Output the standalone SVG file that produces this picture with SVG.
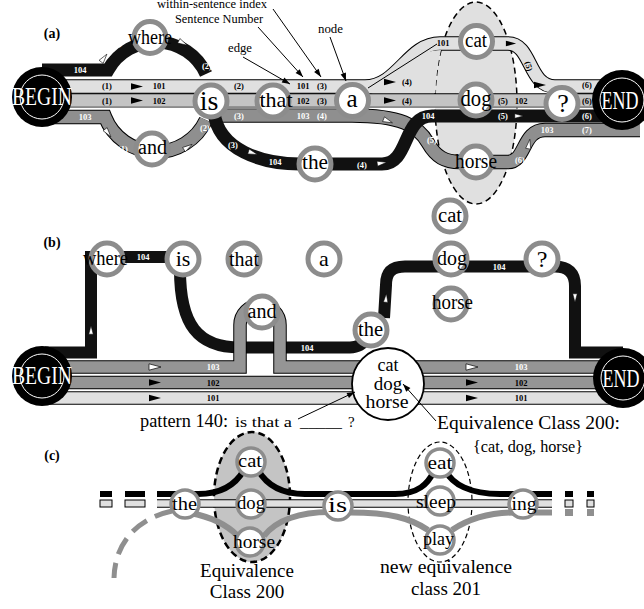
<svg xmlns="http://www.w3.org/2000/svg" width="644" height="609" viewBox="0 0 644 609" font-family="Liberation Serif, Times New Roman, DejaVu Serif, serif">
<style>
.ring{fill:#fff;stroke:#8c8c8c;stroke-width:5}
.ringc{fill:#fff;stroke:#8c8c8c;stroke-width:3.5}
.t{fill:#000;text-anchor:middle}
.ts{fill:#000}
.s{font-weight:bold;font-size:8.5px;text-anchor:middle;fill:#000}
.sw{fill:#fff}
.bd{fill:none;stroke:#000;stroke-width:14.5}
.bdb{fill:none;stroke:#000;stroke-width:13.5}
.l1{fill:none;stroke:#e0e0e0;stroke-width:12.5}
.l2{fill:none;stroke:#c4c4c4;stroke-width:12.5}
.l3{fill:none;stroke:#8f8f8f;stroke-width:12.5}
.m1{fill:none;stroke:#e0e0e0;stroke-width:11.5}
.m3{fill:none;stroke:#959595;stroke-width:11.5}
.l4{fill:none;stroke:#111;stroke-width:13}
.k4{fill:none;stroke:#111;stroke-width:12}
.tb{fill:#000}
.tw{fill:#fff;stroke:#000;stroke-width:0.7}
.term{fill:#000}
.termi{fill:none;stroke:#fff;stroke-width:1}
.tt{fill:#fff;text-anchor:middle;font-size:25px}
.ann{fill:none;stroke:#000;stroke-width:1}
.pl{font-weight:bold;font-size:14px;text-anchor:middle}
</style>
<defs>
<path id="tri" d="M-6,-3.2 L6,0 L-6,3.2 Z"/>
<marker id="ah" viewBox="0 0 10 10" refX="10" refY="5" markerWidth="10" markerHeight="8" orient="auto" markerUnits="userSpaceOnUse"><path d="M0,1.5 L10,5 L0,8.5 Z" fill="#000"/></marker>
</defs>

<!-- ================= (a) ================= -->
<g id="panel-a">
<text class="pl" x="52" y="38">(a)</text>
<ellipse cx="476" cy="103" rx="41" ry="101" fill="#e0e0e0" stroke="#000" stroke-width="1.5" stroke-dasharray="6 4"/>
<g id="connectors-a">
 <path class="bd" d="M42 117 H105 A55 55 0 0 0 206 120"/>
 <path class="l3" d="M42 117 H105 A55 55 0 0 0 206 120"/>
 <path class="bd" d="M211 115.5 H352 C400 115.5 418 125 428 143 C436 157 445 162 460 162 H508 C526 162 522 130 545 130 H640"/>
 <path class="l3" d="M211 115.5 H352 C400 115.5 418 125 428 143 C436 157 445 162 460 162 H508 C526 162 522 130 545 130 H640"/>
 <path class="bd" d="M42 86.5 H365 C398 86.5 408 43.5 440 43.5 H508 C532 43.5 528 86.5 555 86.5 H640"/>
 <path class="l1" d="M42 86.5 H365 C398 86.5 408 43.5 440 43.5 H508 C532 43.5 528 86.5 555 86.5 H640"/>
 <path d="M365 93 V86 C396 86 408 50 441 50 Q436 70 435.5 93 Z" fill="#e0e0e0"/>
 <path class="ann" d="M368 88 L437 44" stroke-width="0.9"/>
 <path class="bd" d="M42 100.5 H640"/>
 <path class="l2" d="M42 100.5 H640"/>
 <path d="M42 108 H640" stroke="#fff" stroke-width="0.8"/>
 <path class="l4" d="M42 70 H108 A55 55 0 0 1 206 74"/>
 <path class="l4" d="M214 112 C218 150 262 164 300 164 H382 C410 164 402 116 432 116 H640"/>
</g>
<g id="marks-a">
 <use href="#tri" class="tb" transform="translate(137,86.5)"/>
 <use href="#tri" class="tb" transform="translate(137,100.5)"/>
 <use href="#tri" class="tb" transform="translate(390,82)"/>
 <use href="#tri" class="tb" transform="translate(390,100.5)"/>
 <use href="#tri" class="tb" transform="translate(511,43.5) scale(0.85)"/>
 <use href="#tri" class="tb" transform="translate(540,85)"/>
 <use href="#tri" class="tw" transform="translate(104,58) rotate(-53) scale(0.8)"/>
 <use href="#tri" class="tw" transform="translate(183,43) rotate(27) scale(0.8)"/>
 <use href="#tri" class="tw" transform="translate(108,133) rotate(53) scale(0.8)"/>
 <use href="#tri" class="tw" transform="translate(188,147) rotate(-33) scale(0.8)"/>
 <use href="#tri" class="tw" transform="translate(253,153) rotate(18) scale(0.8)"/>
 <use href="#tri" class="tw" transform="translate(382,163) rotate(-8) scale(0.8)"/>
 <use href="#tri" class="tw" transform="translate(388,121) rotate(22) scale(0.8)"/>
 <use href="#tri" class="tw" transform="translate(519,116) scale(0.7)"/>
 <use href="#tri" class="tw" transform="translate(529,144) rotate(-80) scale(0.8)"/>
</g>
<g id="labels-a">
 <text class="s" x="107" y="89">(1)</text><text class="s" x="159" y="89">101</text>
 <text class="s" x="107" y="103.5">(1)</text><text class="s" x="159" y="103.5">102</text>
 <text class="s" x="239" y="89">(2)</text>
 <text class="s" x="303" y="89">101</text><text class="s" x="322" y="89">(3)</text>
 <text class="s" x="303" y="103.5">102</text><text class="s" x="322" y="103.5">(3)</text>
 <text class="s" x="407" y="85">(4)</text><text class="s" x="407" y="103.5">(4)</text>
 <text class="s" x="443" y="46">101</text>
 <text class="s" x="503" y="103.5">(5)</text><text class="s" x="521" y="103.5">102</text>
 <text class="s" transform="translate(526,67) rotate(75)">(5)</text>
 <text class="s" x="587" y="88">(6)</text><text class="s" x="587" y="103.5">(6)</text>
 <text class="s sw" x="80" y="73">104</text>
 <text class="s sw" x="117" y="46">(1)</text>
 <text class="s sw" x="207" y="69">(2)</text>
 <text class="s sw" x="85" y="120">103</text>
 <text class="s sw" x="123" y="152">(1)</text>
 <text class="s sw" x="205" y="131">(2)</text>
 <text class="s sw" x="239" y="118.5">(3)</text>
 <text class="s sw" x="303" y="118.5">103</text><text class="s sw" x="322" y="118.5">(4)</text>
 <text class="s sw" x="233" y="148">(3)</text>
 <text class="s sw" x="275" y="165">104</text>
 <text class="s sw" x="362" y="168">(4)</text>
 <text class="s sw" x="428" y="119">104</text>
 <text class="s sw" x="432" y="143">(5)</text>
 <text class="s sw" x="503" y="119">(5)</text>
 <text class="s sw" x="520" y="163">(6)</text>
 <text class="s sw" x="547" y="133">103</text><text class="s sw" x="587" y="133">(7)</text>
 <text class="s sw" x="587" y="119">(6)</text>
</g>
<g id="annotations-a">
 <text class="ts" x="157" y="8" font-size="12.5" textLength="110" lengthAdjust="spacingAndGlyphs">within-sentence index</text>
 <text class="ts" x="175" y="23" font-size="12.5" textLength="88" lengthAdjust="spacingAndGlyphs">Sentence Number</text>
 <text class="ts" x="228" y="52" font-size="12.5" textLength="24" lengthAdjust="spacingAndGlyphs">edge</text>
 <text class="ts" x="318" y="33" font-size="12.5" textLength="25" lengthAdjust="spacingAndGlyphs">node</text>
 <path class="ann" d="M273 9 L321 77" marker-end="url(#ah)"/>
 <path class="ann" d="M258 27 L303 77" marker-end="url(#ah)"/>
 <path class="ann" d="M243 57 L290 84" marker-end="url(#ah)"/>
 <path class="ann" d="M330 37 L346 81" marker-end="url(#ah)"/>
</g>
<g id="a-where"><circle class="ring" cx="150" cy="37.5" r="16"/><text class="t" x="150" y="44" font-size="20" textLength="44" lengthAdjust="spacingAndGlyphs">where</text></g>
<g id="a-and"><circle class="ring" cx="152" cy="149" r="16"/><text class="t" x="152.5" y="154" font-size="20" textLength="29" lengthAdjust="spacingAndGlyphs">and</text></g>
<g id="a-is"><circle class="ring" cx="211" cy="101" r="16"/><text class="t" x="209" y="110" font-size="28">is</text></g>
<g id="a-that"><circle class="ring" cx="273" cy="101" r="16"/><text class="t" x="276" y="107" font-size="21" textLength="33" lengthAdjust="spacingAndGlyphs">that</text></g>
<g id="a-a"><circle class="ring" cx="352.5" cy="100.5" r="16"/><text class="t" x="352" y="107" font-size="25">a</text></g>
<g id="a-the"><circle class="ring" cx="315" cy="164" r="16"/><text class="t" x="315" y="169" font-size="21" textLength="26" lengthAdjust="spacingAndGlyphs">the</text></g>
<g id="a-cat"><circle class="ring" cx="476.5" cy="41.5" r="16"/><text class="t" x="476" y="47" font-size="20" textLength="22" lengthAdjust="spacingAndGlyphs">cat</text></g>
<g id="a-dog"><circle class="ring" cx="476" cy="100" r="16"/><text class="t" x="476" y="106" font-size="23" textLength="31" lengthAdjust="spacingAndGlyphs">dog</text></g>
<g id="a-horse"><circle class="ring" cx="476" cy="162" r="16"/><text class="t" x="476" y="168" font-size="22" textLength="42" lengthAdjust="spacingAndGlyphs">horse</text></g>
<g id="a-q"><circle class="ring" cx="562" cy="103.5" r="16"/><text class="t" x="563" y="112" font-size="26">?</text></g>
<g id="a-begin"><circle class="term" cx="42" cy="97" r="30"/><circle class="termi" cx="42" cy="97" r="22"/><text class="tt" x="42" y="105" textLength="60" lengthAdjust="spacingAndGlyphs">BEGIN</text></g>
<g id="a-end"><circle class="term" cx="622" cy="100" r="30"/><circle class="termi" cx="622" cy="100" r="22"/><text class="tt" x="620" y="109" textLength="37" lengthAdjust="spacingAndGlyphs">END</text></g>
</g>

<!-- ================= (b) ================= -->
<g id="panel-b">
<text class="pl" x="52" y="247">(b)</text>
<g id="connectors-b">
 <path class="k4" d="M45 352.5 H91 V257 H183" stroke-linejoin="miter"/>
 <path class="k4" d="M180 270 C180 325 198 347.5 240 347.5 H350 C358 347.5 364 343 368 337"/>
 <path class="k4" d="M384 318 L386 285 C386 272 392 266.5 405 266.5 H555 C568 266.5 575 273 575 286 V352.5 H623"/>
 <path class="bdb" d="M42 398 H623"/><path class="m1" d="M42 398 H623"/>
 <path class="bdb" d="M42 382.5 H623"/><path class="m3" d="M42 382.5 H623"/>
 <path class="bdb" d="M42 367 H240 V325 A20 20 0 0 1 280 325 V367 H623"/>
 <path class="m3" d="M42 367 H240 V325 A20 20 0 0 1 280 325 V367 H623"/>
</g>
<g id="marks-b">
 <use href="#tri" class="tw" transform="translate(155,367)"/>
 <use href="#tri" class="tb" transform="translate(155,382.5)"/>
 <use href="#tri" class="tb" transform="translate(155,398)"/>
 <use href="#tri" class="tw" transform="translate(472,367)"/>
 <use href="#tri" class="tb" transform="translate(472,382.5)"/>
 <use href="#tri" class="tb" transform="translate(472,398)"/>
 <use href="#tri" class="tw" transform="translate(91,330) rotate(-90) scale(0.7)"/>
 <use href="#tri" class="tw" transform="translate(386,298) rotate(-85) scale(0.7)"/>
 <use href="#tri" class="tw" transform="translate(575,298) rotate(90) scale(0.7)"/>
 <text class="s sw" x="143" y="260">104</text>
 <text class="s sw" x="307" y="351">104</text>
 <text class="s sw" x="499" y="270">104</text>
 <text class="s sw" x="213" y="370">103</text><text class="s" x="213" y="385.5">102</text><text class="s" x="213" y="401">101</text>
 <text class="s sw" x="521" y="370">103</text><text class="s" x="521" y="385.5">102</text><text class="s" x="521" y="401">101</text>
</g>
<g id="b-class"><circle cx="388" cy="384" r="36" fill="#fff" stroke="#000" stroke-width="1.8"/>
 <text class="t" x="388" y="371" font-size="18">cat</text>
 <text class="t" x="388" y="389.5" font-size="19">dog</text>
 <text class="t" x="387" y="408" font-size="18.5" textLength="43" lengthAdjust="spacingAndGlyphs">horse</text>
</g>
<g id="b-where"><circle class="ring" cx="107" cy="259" r="16"/><text class="t" x="105.5" y="265" font-size="20" textLength="45" lengthAdjust="spacingAndGlyphs">where</text></g>
<g id="b-is"><circle class="ring" cx="183" cy="259" r="16"/><text class="t" x="183" y="266" font-size="22">is</text></g>
<g id="b-that"><circle class="ring" cx="244" cy="259" r="16"/><text class="t" x="244" y="266" font-size="20" textLength="30" lengthAdjust="spacingAndGlyphs">that</text></g>
<g id="b-a"><circle class="ring" cx="324" cy="259" r="16"/><text class="t" x="324" y="266" font-size="22">a</text></g>
<g id="b-and"><circle class="ring" cx="262" cy="312" r="16"/><text class="t" x="262" y="318" font-size="20" textLength="29" lengthAdjust="spacingAndGlyphs">and</text></g>
<g id="b-the"><circle class="ring" cx="371" cy="330" r="16"/><text class="t" x="370.5" y="336" font-size="20" textLength="25" lengthAdjust="spacingAndGlyphs">the</text></g>
<g id="b-cat"><circle class="ring" cx="450" cy="216" r="16"/><text class="t" x="450" y="222" font-size="20" textLength="24" lengthAdjust="spacingAndGlyphs">cat</text></g>
<g id="b-dog"><circle class="ring" cx="451" cy="259" r="16"/><text class="t" x="452" y="265" font-size="21" textLength="30" lengthAdjust="spacingAndGlyphs">dog</text></g>
<g id="b-horse"><circle class="ring" cx="451" cy="304" r="16"/><text class="t" x="452.5" y="309" font-size="20" textLength="41" lengthAdjust="spacingAndGlyphs">horse</text></g>
<g id="b-q"><circle class="ring" cx="542" cy="259" r="16"/><text class="t" x="542" y="267" font-size="24">?</text></g>
<g id="b-begin"><circle class="term" cx="42" cy="376" r="30"/><circle class="termi" cx="42" cy="376" r="22"/><text class="tt" x="42" y="384" textLength="60" lengthAdjust="spacingAndGlyphs">BEGIN</text></g>
<g id="b-end"><circle class="term" cx="623" cy="378" r="30"/><circle class="termi" cx="623" cy="378" r="22"/><text class="tt" x="621" y="387" textLength="37" lengthAdjust="spacingAndGlyphs">END</text></g>
<g id="annotations-b">
 <text class="ts" x="140" y="427" font-size="18" textLength="88" lengthAdjust="spacingAndGlyphs">pattern 140:</text>
 <text class="ts" x="235" y="427" font-size="15" textLength="57" lengthAdjust="spacingAndGlyphs">is that a</text>
 <text class="ts" x="300" y="427" font-size="15" textLength="42" lengthAdjust="spacingAndGlyphs">_____</text>
 <text class="ts" x="348" y="427" font-size="15">?</text>
 <path class="ann" d="M298 419 L355 392" marker-end="url(#ah)"/>
 <text class="ts" x="437" y="429" font-size="19.5" textLength="183" lengthAdjust="spacingAndGlyphs">Equivalence Class 200:</text>
 <text class="ts" x="473" y="452" font-size="16" textLength="110" lengthAdjust="spacingAndGlyphs">{cat, dog, horse}</text>
 <path class="ann" d="M436 421 L403 384" marker-end="url(#ah)"/>
</g>
</g>

<!-- ================= (c) ================= -->
<g id="panel-c">
<text class="pl" x="52" y="460">(c)</text>
<ellipse cx="252" cy="497" rx="38" ry="65" fill="#c4c4c4" stroke="#000" stroke-width="2.5" stroke-dasharray="7 4"/>
<ellipse cx="440" cy="502" rx="32" ry="60" fill="none" stroke="#000" stroke-width="1.2" stroke-dasharray="5 3"/>
<g id="connectors-c">
 <g fill="#000">
  <rect x="100" y="491" width="12" height="6"/><rect x="125" y="491" width="20" height="6"/>
  <rect x="565" y="491" width="8" height="6"/><rect x="587" y="491" width="7" height="6"/>
 </g>
 <g fill="#e0e0e0" stroke="#000" stroke-width="1">
  <rect x="100" y="500" width="12" height="7"/><rect x="125" y="500" width="20" height="7"/>
  <rect x="565" y="500" width="8" height="7"/><rect x="587" y="500" width="7" height="7"/>
 </g>
 <g fill="#8f8f8f">
  <rect x="565" y="509" width="8" height="7"/><rect x="587" y="509" width="7" height="7"/>
 </g>
 <path d="M157 503.5 H552" fill="none" stroke="#000" stroke-width="8.5"/>
 <path d="M157 503.5 H552" fill="none" stroke="#e0e0e0" stroke-width="6.5"/>
 <g fill="none" stroke="#000" stroke-width="6">
  <path d="M157 494 H198 C222 494 236 484 244 470"/>
  <path d="M258 470 C266 484 280 494 305 494 H395 C418 494 428 484 434 471"/>
  <path d="M446 471 C452 484 470 494 500 494 H552"/>
 </g>
 <g fill="none" stroke="#8f8f8f" stroke-width="6">
  <path d="M190 513 C212 517 228 526 238 536"/>
  <path d="M264 536 C276 520 300 512 330 512"/>
  <path d="M350 512.5 C390 512.5 410 518 428 530"/>
  <path d="M452 530 C470 518 490 512.5 515 512.5"/>
  <path d="M530 512.5 H552"/>
  <path d="M172 511 C140 518 115 540 114 578" stroke-dasharray="18 9" stroke-width="5"/>
 </g>
</g>
<g id="c-the"><circle class="ringc" cx="185" cy="504" r="14"/><text class="t" x="184.5" y="510" font-size="18" textLength="25" lengthAdjust="spacingAndGlyphs">the</text></g>
<g id="c-cat"><circle class="ringc" cx="251" cy="462" r="14"/><text class="t" x="250" y="467" font-size="18" textLength="24" lengthAdjust="spacingAndGlyphs">cat</text></g>
<g id="c-dog"><circle class="ringc" cx="251" cy="504" r="14"/><text class="t" x="251" y="509" font-size="19" textLength="28" lengthAdjust="spacingAndGlyphs">dog</text></g>
<g id="c-horse"><circle class="ringc" cx="250" cy="542" r="14"/><text class="t" x="254" y="548" font-size="18" textLength="42" lengthAdjust="spacingAndGlyphs">horse</text></g>
<g id="c-is"><circle class="ringc" cx="338" cy="506" r="14"/><text class="t" x="337.5" y="512" font-size="20" textLength="19" lengthAdjust="spacingAndGlyphs">is</text></g>
<g id="c-eat"><circle class="ringc" cx="440" cy="463" r="14"/><text class="t" x="440" y="469" font-size="18" textLength="25" lengthAdjust="spacingAndGlyphs">eat</text></g>
<g id="c-sleep"><circle class="ringc" cx="440" cy="501" r="14"/><text class="t" x="436" y="508" font-size="18" textLength="40" lengthAdjust="spacingAndGlyphs">sleep</text></g>
<g id="c-play"><circle class="ringc" cx="440" cy="540" r="14"/><text class="t" x="438.5" y="545" font-size="18" textLength="31" lengthAdjust="spacingAndGlyphs">play</text></g>
<g id="c-ing"><circle class="ringc" cx="523" cy="504" r="14"/><text class="t" x="524" y="510" font-size="18" textLength="25" lengthAdjust="spacingAndGlyphs">ing</text></g>
<g id="labels-c">
 <text class="t" x="247" y="577" font-size="19">Equivalence</text>
 <text class="t" x="247" y="598" font-size="19">Class 200</text>
 <text class="t" x="446" y="573" font-size="19" textLength="132" lengthAdjust="spacingAndGlyphs">new equivalence</text>
 <text class="t" x="446" y="595" font-size="19">class 201</text>
</g>
</g>
</svg>
